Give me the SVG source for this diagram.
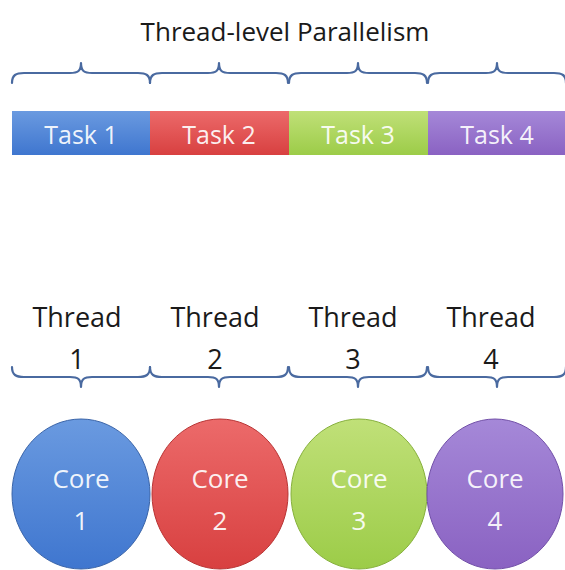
<svg xmlns="http://www.w3.org/2000/svg" width="565" height="570" viewBox="0 0 565 570">
<style>
.t{font-family:"Open Sans","Liberation Sans",sans-serif;text-anchor:middle}
.dk{fill:#1a1a1a;font-size:27px}
.wt{fill:#ffffff;fill-opacity:0.92}
.tk{font-size:25px}
.cr{font-size:26px}
.br{fill:none;stroke:#4a6aa0;stroke-width:2.2;stroke-linecap:round;stroke-linejoin:round}
</style>
<defs>
<linearGradient id="gB" x1="0" y1="0" x2="0" y2="1"><stop offset="0" stop-color="#6a9ae0"/><stop offset="1" stop-color="#3f76cf"/></linearGradient>
<linearGradient id="gR" x1="0" y1="0" x2="0" y2="1"><stop offset="0" stop-color="#ec6a6a"/><stop offset="1" stop-color="#d84040"/></linearGradient>
<linearGradient id="gG" x1="0" y1="0" x2="0" y2="1"><stop offset="0" stop-color="#c0e078"/><stop offset="1" stop-color="#9ccc48"/></linearGradient>
<linearGradient id="gP" x1="0" y1="0" x2="0" y2="1"><stop offset="0" stop-color="#a588d8"/><stop offset="1" stop-color="#8a62c2"/></linearGradient>
<path id="braceTop" class="br" d="M0,20 C0,12 4,10 12,10 L58,10 C66,10 69,8 69,0 C69,8 72,10 80,10 L126,10 C134,10 138,12 138,20"/>
<path id="braceBot" class="br" d="M0,0 C0,8 4,10 12,10 L58,10 C66,10 69,12 69,20 C69,12 72,10 80,10 L126,10 C134,10 138,8 138,0"/>
</defs>
<text id="title" class="t" x="285" y="41" font-size="26" fill="#1a1a1a">Thread-level Parallelism</text>
<g id="connectors">
<use href="#braceTop" x="12" y="63"/>
<use href="#braceTop" x="150" y="63"/>
<use href="#braceTop" x="289" y="63"/>
<use href="#braceTop" x="428" y="63"/>
<use href="#braceBot" x="12" y="367"/>
<use href="#braceBot" x="150" y="367"/>
<use href="#braceBot" x="289" y="367"/>
<use href="#braceBot" x="428" y="367"/>
</g>
<g id="task1"><rect x="12" y="111" width="138" height="44" fill="url(#gB)"/><text class="t wt tk" x="81" y="144">Task 1</text></g>
<g id="task2"><rect x="150" y="111" width="139" height="44" fill="url(#gR)"/><text class="t wt tk" x="219" y="144">Task 2</text></g>
<g id="task3"><rect x="289" y="111" width="139" height="44" fill="url(#gG)"/><text class="t wt tk" x="358" y="144">Task 3</text></g>
<g id="task4"><rect x="428" y="111" width="137" height="44" fill="url(#gP)"/><text class="t wt tk" x="497" y="144">Task 4</text></g>
<g id="thread1"><text class="t dk" x="77" y="327">Thread</text><text class="t dk" x="77" y="369">1</text></g>
<g id="thread2"><text class="t dk" x="215" y="327">Thread</text><text class="t dk" x="215" y="369">2</text></g>
<g id="thread3"><text class="t dk" x="353" y="327">Thread</text><text class="t dk" x="353" y="369">3</text></g>
<g id="thread4"><text class="t dk" x="491" y="327">Thread</text><text class="t dk" x="491" y="369">4</text></g>
<g id="core1"><ellipse cx="81" cy="494" rx="69" ry="75" fill="url(#gB)" stroke="#3a64a8" stroke-width="1"/><text class="t wt cr" x="81" y="488">Core</text><text class="t wt cr" x="81" y="530">1</text></g>
<g id="core2"><ellipse cx="220" cy="494" rx="68" ry="75" fill="url(#gR)" stroke="#b83434" stroke-width="1"/><text class="t wt cr" x="220" y="488">Core</text><text class="t wt cr" x="220" y="530">2</text></g>
<g id="core3"><ellipse cx="359" cy="494" rx="68" ry="75" fill="url(#gG)" stroke="#86b03c" stroke-width="1"/><text class="t wt cr" x="359" y="488">Core</text><text class="t wt cr" x="359" y="530">3</text></g>
<g id="core4"><ellipse cx="495" cy="494" rx="68" ry="75" fill="url(#gP)" stroke="#7250a8" stroke-width="1"/><text class="t wt cr" x="495" y="488">Core</text><text class="t wt cr" x="495" y="530">4</text></g>
</svg>
